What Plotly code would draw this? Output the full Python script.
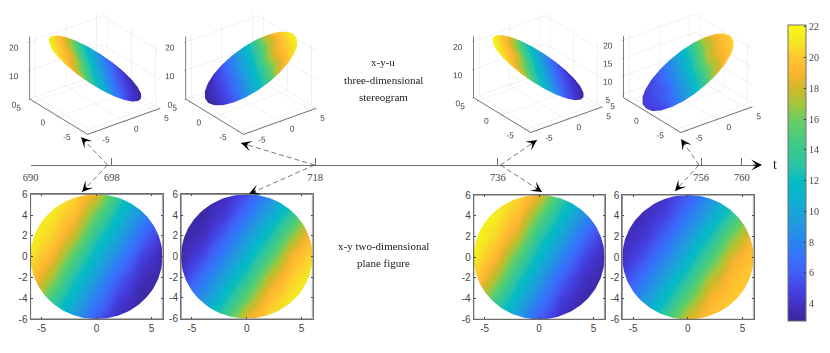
import numpy as np
import plotly.graph_objects as go

W, H = 830, 353

# ─── THEME ───
_SANS = "Liberation Sans, Arial, sans-serif"
_SERIF = "Liberation Serif, Times New Roman, serif"
_AXIS = "#6e6e6e"
_TICK = "#444444"
_GRID = "#e4e4e4"

# parula-like map
BAR_VALUES = [2.85, 4, 5, 6, 7, 8, 9, 10, 11, 12, 13, 14, 15, 16, 17, 18, 19, 20, 21, 22.1]
BAR_COLORS = ["#38279a", "#4232c8", "#4445e6", "#4060f5", "#3573fa", "#2a84f0", "#2296e0",
              "#1aa5d8", "#08b5cc", "#08bcc0", "#2cc4a4", "#38c990", "#50cc78", "#6dcc60",
              "#a9c63a", "#d0b82a", "#fdb52f", "#fdc72f", "#f5e524", "#fafb14"]
BAR_TICKS = [4, 6, 8, 10, 12, 14, 16, 18, 20, 22]

# timeline
T_TICKS = [690, 698, 718, 736, 756, 760]

# tick labels
XY_TICKS = [-5, 0, 5]
XY_TEXT = ["-5", "0", "5"]
Y_TICKS = [-6, -4, -2, 0, 2, 4, 6]
Y_TEXT = ["-6", "-4", "-2", "0", "2", "4", "6"]

# x-y plane values, rows y=-6..6, columns x=-6..6
GRID = [-6, -4, -2, 0, 2, 4, 6]
PLANE_698 = [
    [16.1, 12.0, 8.9, 5.7, 3.6, 3.0, 2.9],
    [18.6, 14.2, 10.6, 7.5, 4.6, 3.2, 2.9],
    [20.0, 16.9, 12.5, 9.3, 6.1, 3.8, 3.0],
    [21.0, 19.0, 14.9, 11.0, 8.0, 5.0, 3.3],
    [21.6, 20.3, 17.6, 13.0, 9.8, 6.6, 4.1],
    [21.8, 21.1, 19.4, 15.5, 11.5, 8.6, 5.4],
    [22.0, 21.6, 20.5, 18.3, 13.6, 10.1, 7.1],
]
PLANE_718 = [
    [7.9, 10.8, 14.4, 18.7, 20.7, 21.6, 22.0],
    [5.9, 8.9, 12.0, 15.9, 19.6, 21.1, 21.8],
    [4.3, 7.0, 10.0, 13.2, 17.6, 20.2, 21.5],
    [3.4, 5.2, 8.0, 11.0, 14.7, 18.9, 20.8],
    [3.0, 3.8, 6.1, 9.2, 12.2, 16.3, 19.8],
    [2.9, 3.2, 4.5, 7.2, 10.1, 13.5, 18.0],
    [2.8, 3.0, 3.6, 5.4, 8.2, 11.2, 15.0],
]
PLANE_736 = [
    [16.3, 12.2, 9.0, 5.8, 3.7, 3.0, 2.9],
    [18.8, 14.5, 10.8, 7.6, 4.7, 3.3, 2.9],
    [20.4, 17.2, 12.8, 9.5, 6.2, 3.9, 3.1],
    [21.4, 19.2, 15.2, 11.3, 8.1, 5.1, 3.4],
    [21.9, 20.5, 17.9, 13.3, 10.0, 6.7, 4.2],
    [22.0, 21.3, 19.5, 15.8, 11.7, 8.7, 5.5],
    [22.0, 21.7, 20.6, 18.5, 13.9, 10.3, 7.2],
]
PLANE_756 = [
    [8.1, 10.8, 14.3, 18.3, 19.9, 20.4, 20.6],
    [6.2, 9.0, 12.0, 15.7, 19.0, 20.0, 20.5],
    [4.7, 7.2, 10.0, 13.2, 17.2, 19.4, 20.3],
    [3.9, 5.5, 8.1, 11.0, 14.5, 18.4, 19.9],
    [3.5, 4.3, 6.3, 9.2, 12.2, 16.0, 19.2],
    [3.4, 3.7, 4.9, 7.4, 10.1, 13.4, 17.6],
    [3.3, 3.5, 4.1, 5.8, 8.3, 11.2, 14.8],
]

# x-y-u surfaces on a polar grid, one column per 15 degrees
RADII = [0, 3, 6]
ANGLES = list(range(0, 360, 15))

# colour value on the rings
RING3_698 = [6.4, 7.3, 8.4, 9.7, 11.0, 12.6, 14.2, 15.8, 17.2, 18.0, 18.3, 18.0,
             17.2, 15.8, 14.2, 12.6, 11.0, 9.7, 8.4, 7.3, 6.4, 5.9, 5.7, 5.9]
RING6_698 = [3.3, 4.1, 5.7, 8.3, 11.0, 14.4, 18.3, 20.0, 21.0, 21.4, 21.6, 21.4,
             21.0, 20.0, 18.3, 14.4, 11.0, 8.3, 5.7, 4.1, 3.3, 3.0, 2.9, 3.0]
RING3_718 = [17.2, 15.8, 14.2, 12.6, 11.0, 9.7, 8.4, 7.3, 6.4, 5.9, 5.7, 5.9,
             6.4, 7.3, 8.4, 9.7, 11.0, 12.6, 14.2, 15.8, 17.2, 18.0, 18.3, 18.0]
RING6_718 = [21.0, 20.0, 18.3, 14.4, 11.0, 8.3, 5.7, 4.1, 3.3, 3.0, 2.9, 3.0,
             3.3, 4.1, 5.7, 8.3, 11.0, 14.4, 18.3, 20.0, 21.0, 21.4, 21.6, 21.4]
RING3_736 = [6.5, 7.4, 8.5, 9.9, 11.3, 12.9, 14.5, 16.0, 17.4, 18.2, 18.5, 18.2,
             17.4, 16.0, 14.5, 12.9, 11.3, 9.9, 8.5, 7.4, 6.5, 6.0, 5.8, 6.0]
RING6_736 = [3.4, 4.2, 5.8, 8.5, 11.3, 14.7, 18.5, 20.3, 21.3, 21.7, 21.9, 21.7,
             21.3, 20.3, 18.5, 14.7, 11.3, 8.5, 5.8, 4.2, 3.4, 3.1, 3.0, 3.1]
RING3_756 = [16.9, 15.6, 14.1, 12.5, 11.0, 9.7, 8.5, 7.5, 6.7, 6.2, 6.0, 6.2,
             6.7, 7.5, 8.5, 9.7, 11.0, 12.5, 14.1, 15.6, 16.9, 17.6, 17.8, 17.6]
RING6_756 = [19.9, 19.2, 17.8, 14.2, 11.0, 8.5, 6.1, 4.8, 4.5, 4.5, 4.5, 4.5,
             4.5, 4.8, 6.1, 8.5, 11.0, 14.2, 17.8, 19.2, 19.9, 20.3, 20.5, 20.3]
RING0 = 11.0

# height on the rings (the sheet itself is flat)
Z0 = 12.3
Z3_UP = [8.1, 8.9, 9.9, 11.1, 12.3, 13.5, 14.7, 15.7, 16.5, 16.9, 17.1, 16.9,
         16.5, 15.7, 14.7, 13.5, 12.3, 11.1, 9.9, 8.9, 8.1, 7.7, 7.5, 7.7]
Z6_UP = [4.0, 5.5, 7.5, 9.8, 12.3, 14.8, 17.1, 19.1, 20.6, 21.6, 21.9, 21.6,
         20.6, 19.1, 17.1, 14.8, 12.3, 9.8, 7.5, 5.5, 4.0, 3.0, 2.7, 3.0]
Z3_DOWN = [16.5, 15.7, 14.7, 13.5, 12.3, 11.1, 9.9, 8.9, 8.1, 7.7, 7.5, 7.7,
           8.1, 8.9, 9.9, 11.1, 12.3, 13.5, 14.7, 15.7, 16.5, 16.9, 17.1, 16.9]
Z6_DOWN = [20.6, 19.1, 17.1, 14.8, 12.3, 9.8, 7.5, 5.5, 4.0, 3.0, 2.7, 3.0,
           4.0, 5.5, 7.5, 9.8, 12.3, 14.8, 17.1, 19.1, 20.6, 21.6, 21.9, 21.6]
Z3_756 = [16.0, 15.3, 14.4, 13.4, 12.3, 11.2, 10.2, 9.4, 8.8, 8.3, 8.1, 8.3,
          8.8, 9.4, 10.2, 11.2, 12.3, 13.4, 14.4, 15.3, 16.0, 16.4, 16.5, 16.4]
Z6_756 = [19.5, 18.2, 16.5, 14.5, 12.3, 10.1, 8.1, 6.4, 5.1, 4.5, 4.1, 4.5,
          5.1, 6.4, 8.1, 10.1, 12.3, 14.5, 16.5, 18.2, 19.5, 20.2, 20.5, 20.2]


def px_x(a, b):
    return [a / W, b / W]


def px_y(top, bottom):
    return [1 - bottom / H, 1 - top / H]


def surface_trace(heights, colors):
    # close the rings by repeating the first column
    theta = np.deg2rad(ANGLES + [360])
    r = np.array(RADII)[:, None]
    x = r * np.cos(theta)
    y = r * np.sin(theta)
    z3, z6 = heights
    c0, c3, c6 = colors
    z = [[Z0] * len(theta), z3 + z3[:1], z6 + z6[:1]]
    c = [[c0] * len(theta), c3 + c3[:1], c6 + c6[:1]]
    return go.Surface(x=x, y=y, z=z, surfacecolor=c, coloraxis="coloraxis",
                      showscale=False, hoverinfo="skip",
                      lighting=dict(ambient=1, diffuse=0, specular=0, roughness=1, fresnel=0))


fig = go.Figure()
shapes, notes = [], []

# ─── 2D discs ───
PLANES = [
    (PLANE_698, (30.5, 162.5), (194.3, 319)),
    (PLANE_718, (181, 312.5), (194.3, 318.5)),
    (PLANE_736, (473.7, 604.5), (195, 319.3)),
    (PLANE_756, (622.3, 753.5), (195, 319.3)),
]
# white keyhole outline that hides the square outside the disc
_t = np.linspace(0, 2 * np.pi, 181)
_mask_x = [7, 7, -7, -7, 7, 7] + list(6 * np.cos(_t)) + [7]
_mask_y = [0, -7, -7, 7, 7, 0] + list(6 * np.sin(_t)) + [0]

layout_axes = {}
for i, (plane, xpx, ypx) in enumerate(PLANES, start=1):
    fig.add_trace(go.Heatmap(x=GRID, y=GRID, z=plane, coloraxis="coloraxis", zsmooth="best",
                             hoverinfo="skip", xaxis=f"x{i}", yaxis=f"y{i}"))
    fig.add_trace(go.Scatter(x=_mask_x, y=_mask_y, mode="lines", fill="toself",
                             fillcolor="white", line=dict(width=0), hoverinfo="skip",
                             showlegend=False, xaxis=f"x{i}", yaxis=f"y{i}"))
    common = dict(range=[-6, 6], showgrid=False, zeroline=False, showline=True, mirror="ticks",
                  linecolor=_AXIS, linewidth=1, ticks="inside", ticklen=2, tickcolor=_TICK,
                  tickfont=dict(family=_SANS, size=10, color=_TICK))
    layout_axes[f"xaxis{i}"] = dict(common, domain=px_x(*xpx), anchor=f"y{i}",
                                    tickvals=XY_TICKS, ticktext=XY_TEXT)
    layout_axes[f"yaxis{i}"] = dict(common, domain=px_y(*ypx), anchor=f"x{i}",
                                    tickvals=Y_TICKS, ticktext=Y_TEXT)
    # frame on top, the heatmap image bleeds one pixel past the axes otherwise
    shapes.append(dict(type="rect", xref=f"x{i}", yref=f"y{i}", x0=-6, x1=6, y0=-6, y1=6,
                       line=dict(color=_AXIS, width=1.2), layer="above"))

# ─── timeline ───
fig.add_trace(go.Scatter(x=T_TICKS, y=[0] * len(T_TICKS), mode="markers", marker=dict(opacity=0),
                         hoverinfo="skip", showlegend=False, xaxis="x5", yaxis="y5"))
layout_axes["xaxis5"] = dict(domain=px_x(30.5, 757), anchor="y5", range=[690, 761.5],
                             tickvals=T_TICKS, showgrid=False, zeroline=False, showline=True,
                             linecolor=_AXIS, linewidth=1, ticks="inside", ticklen=7,
                             tickcolor=_AXIS, ticklabelstandoff=2,
                             tickfont=dict(family=_SERIF, size=10.5, color=_TICK))
layout_axes["yaxis5"] = dict(domain=px_y(155, 165), anchor="x5", range=[0, 1], visible=False,
                             fixedrange=True)

# ─── 3D surfaces ───
SURFACES = [
    ((Z3_UP, Z6_UP), (RING0, RING3_698, RING6_698), (2.5, 186.5), (1.5, 142.5), [0, 21.8], [0, 10, 20]),
    ((Z3_DOWN, Z6_DOWN), (RING0, RING3_718, RING6_718), (158.5, 342.5), (1.5, 142.5), [0, 21.8], [0, 10, 20]),
    ((Z3_UP, Z6_UP), (11.3, RING3_736, RING6_736), (445.7, 629.7), (1.5, 140.5), [0, 21.8], [0, 10, 20]),
    ((Z3_756, Z6_756), (RING0, RING3_756, RING6_756), (596, 780), (1.5, 140.5), [4, 21], [5, 10, 15, 20]),
]
_ax3d = dict(showbackground=False, gridcolor=_GRID, gridwidth=1, showline=True, linecolor=_AXIS,
             linewidth=2, zeroline=False, ticks="outside", ticklen=2, tickcolor=_AXIS, tickangle=0,
             showspikes=False, title=dict(text=""), tickfont=dict(family=_SANS, size=10, color=_TICK))
for i, (heights, colors, xpx, ypx, zrange, zticks) in enumerate(SURFACES, start=1):
    tr = surface_trace(heights, colors)
    key = f"scene{i}" if i > 1 else "scene"
    tr.scene = key
    fig.add_trace(tr)
    layout_axes[key] = dict(
        domain=dict(x=px_x(*xpx), y=px_y(*ypx)),
        bgcolor="rgba(0,0,0,0)",
        aspectmode="manual", aspectratio=dict(x=1.3, y=1.35, z=1.0),
        camera=dict(projection=dict(type="orthographic"),
                    eye=dict(x=-0.69, y=-0.9, z=0.6), center=dict(x=0, y=0, z=0),
                    up=dict(x=0, y=0, z=1)),
        xaxis=dict(_ax3d, range=[-6, 6], tickvals=XY_TICKS, ticktext=XY_TEXT),
        yaxis=dict(_ax3d, range=[-6, 6], tickvals=XY_TICKS, ticktext=XY_TEXT),
        zaxis=dict(_ax3d, range=zrange, tickvals=zticks),
    )

# ─── arrows between the timeline and the panels ───
ARROWS = [
    ((107.5, 165), (81, 137)), ((107.5, 165), (82, 192)),
    ((314.5, 165), (241, 143)), ((314.5, 165), (249, 194)),
    ((500.5, 165), (537, 140)), ((500.5, 165), (542, 192)),
    ((699, 165), (681, 139)), ((699, 165), (675, 191)),
]
for (x0, y0), (x1, y1) in ARROWS:
    shapes.append(dict(type="line", xref="paper", yref="paper", x0=x0 / W, x1=x1 / W,
                       y0=1 - y0 / H, y1=1 - y1 / H, line=dict(color="#555555", width=0.8, dash="5px,3px")))
    d = np.hypot(x1 - x0, y1 - y0)
    notes.append(dict(xref="paper", yref="paper", x=x1 / W, y=1 - y1 / H, text="", showarrow=True,
                      axref="pixel", ayref="pixel", ax=(x0 - x1) / d * 9, ay=(y0 - y1) / d * 9,
                      arrowhead=3, arrowsize=1.8, arrowwidth=1, arrowcolor="black", standoff=0))
# timeline arrow head
notes.append(dict(xref="paper", yref="paper", x=762 / W, y=1 - 165 / H, text="", showarrow=True,
                  ax=-10, ay=0, arrowhead=3, arrowsize=1.8, arrowwidth=1, arrowcolor="black", standoff=0))

LABELS = [
    ("t", 775, 164, 14),
    ("x-y-u", 383, 62, 11), ("three-dimensional", 383, 79.5, 11), ("stereogram", 383, 96.5, 11),
    ("x-y two-dimensional", 383, 246, 11), ("plane figure", 383, 263, 11),
]
for text, x, y, size in LABELS:
    notes.append(dict(xref="paper", yref="paper", x=x / W, y=1 - y / H, text=text, showarrow=False,
                      xanchor="center", yanchor="middle",
                      font=dict(family=_SERIF, size=size, color="#222222")))

_span = BAR_VALUES[-1] - BAR_VALUES[0]
fig.update_layout(
    width=W, height=H, margin=dict(l=0, r=0, t=0, b=0, autoexpand=False),
    paper_bgcolor="white", plot_bgcolor="white", showlegend=False,
    shapes=shapes, annotations=notes,
    coloraxis=dict(
        cmin=BAR_VALUES[0], cmax=BAR_VALUES[-1],
        colorscale=[[(v - BAR_VALUES[0]) / _span, c] for v, c in zip(BAR_VALUES, BAR_COLORS)],
        colorbar=dict(x=787.7 / W, xanchor="left", y=1 - 25.3 / H, yanchor="top",
                      lenmode="pixels", len=296.4, thicknessmode="pixels", thickness=18,
                      xpad=0, ypad=0, outlinecolor=_AXIS, outlinewidth=1,
                      tickvals=BAR_TICKS, ticks="inside", ticklen=2, tickcolor="#333333",
                      tickfont=dict(family=_SERIF, size=10, color=_TICK)),
    ),
    **layout_axes,
)

fig.write_html("out.html", config=dict(displayModeBar=False),
               post_script="document.body.style.margin='0';document.body.style.overflow='hidden';")
